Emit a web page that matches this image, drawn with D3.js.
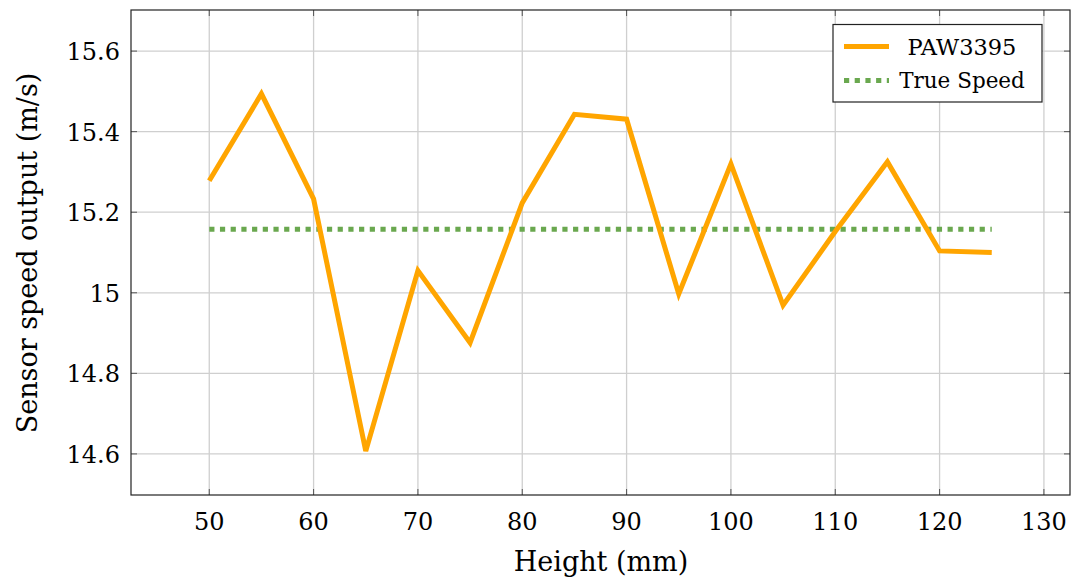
<!DOCTYPE html>
<html><head><meta charset="utf-8">
<script src="https://cdn.jsdelivr.net/npm/d3@7"></script>
<style>body{margin:0;background:#fff}svg{display:block}</style>
</head><body>
<svg id="c" width="1074" height="581"></svg>
<script>
const heights = [50,55,60,65,70,75,80,85,90,95,100,105,110,115,120,125];
const pawValues = [15.278,15.494,15.233,14.607,15.055,14.876,15.223,15.443,15.431,14.997,15.320,14.969,15.152,15.325,15.104,15.100];
const trueSpeed = 15.158;
const xTicks = [50,60,70,80,90,100,110,120,130];
const yTicks = [14.6,14.8,15.0,15.2,15.4,15.6];
const yTickLabels = ["14.6","14.8","15","15.2","15.4","15.6"];
const seriesNames = ["PAW3395","True Speed"];

const FONT="'DejaVu Serif', 'Liberation Serif', serif";
const L=131,R=1070,T=10,B=495;
const svg=d3.select("#c");
const x=d3.scaleLinear().domain([42.5,132.5]).range([L,R]);
const y=d3.scaleLinear().domain([14.498,15.702]).range([B,T]);

// grid
const g=svg.append("g");
g.selectAll(".gx").data(xTicks).join("line").attr("x1",d=>x(d)).attr("x2",d=>x(d)).attr("y1",T).attr("y2",B).attr("stroke","#cfcfcf").attr("stroke-width",1.3);
g.selectAll(".gy").data(yTicks).join("line").attr("y1",d=>y(d)).attr("y2",d=>y(d)).attr("x1",L).attr("x2",R).attr("stroke","#cfcfcf").attr("stroke-width",1.3);

// ticks inside
const tk=svg.append("g").attr("stroke","#555").attr("stroke-width",1);
xTicks.forEach(t=>{tk.append("line").attr("x1",x(t)).attr("x2",x(t)).attr("y1",B).attr("y2",B-6);tk.append("line").attr("x1",x(t)).attr("x2",x(t)).attr("y1",T).attr("y2",T+6);});
yTicks.forEach(t=>{tk.append("line").attr("y1",y(t)).attr("y2",y(t)).attr("x1",L).attr("x2",L+6);tk.append("line").attr("y1",y(t)).attr("y2",y(t)).attr("x1",R).attr("x2",R-6);});

// lines
const line=d3.line().x((d,i)=>x(heights[i])).y(d=>y(d));
svg.append("path").datum(heights.map(()=>trueSpeed)).attr("d",line).attr("fill","none").attr("stroke","#6aa84f").attr("stroke-width",5).attr("stroke-dasharray","5.2,5.5");
svg.append("path").datum(pawValues).attr("d",line).attr("fill","none").attr("stroke","#ffa500").attr("stroke-width",5).attr("stroke-linejoin","miter");

// frame
svg.append("rect").attr("x",L).attr("y",T).attr("width",R-L).attr("height",B-T).attr("fill","none").attr("stroke","#222").attr("stroke-width",1.2);

// legend
const lg=svg.append("g");
lg.append("rect").attr("x",833).attr("y",24.5).attr("width",209).attr("height",77.5).attr("fill","#fff").attr("stroke","#222").attr("stroke-width",1.2);
lg.append("line").attr("x1",844).attr("x2",889).attr("y1",46.5).attr("y2",46.5).attr("stroke","#ffa500").attr("stroke-width",5);
lg.append("line").attr("x1",844).attr("x2",889).attr("y1",80.5).attr("y2",80.5).attr("stroke","#6aa84f").attr("stroke-width",5).attr("stroke-dasharray","5.2,5.5");

const txt=svg.append("g").attr("font-family",FONT).attr("fill","#000");
// tick labels
txt.selectAll(".xl").data(xTicks).join("text").attr("x",d=>x(d)).attr("y",530).attr("text-anchor","middle").attr("font-size",24).text(d=>d);
txt.selectAll(".yl").data(yTicks).join("text").attr("x",120).attr("y",d=>y(d)+9).attr("text-anchor","end").attr("font-size",24).text((d,i)=>yTickLabels[i]);

// axis titles
txt.append("text").attr("x",601).attr("y",571).attr("text-anchor","middle").attr("font-size",27).text("Height (mm)");
txt.append("text").attr("transform","translate(37,253) rotate(-90)").attr("text-anchor","middle").attr("font-size",27).text("Sensor speed output (m/s)");

txt.append("text").attr("x",962).attr("y",55).attr("text-anchor","middle").attr("font-size",22.5).text(seriesNames[0]);
txt.append("text").attr("x",962).attr("y",88).attr("text-anchor","middle").attr("font-size",21.5).text(seriesNames[1]);
</script>
</body></html>
